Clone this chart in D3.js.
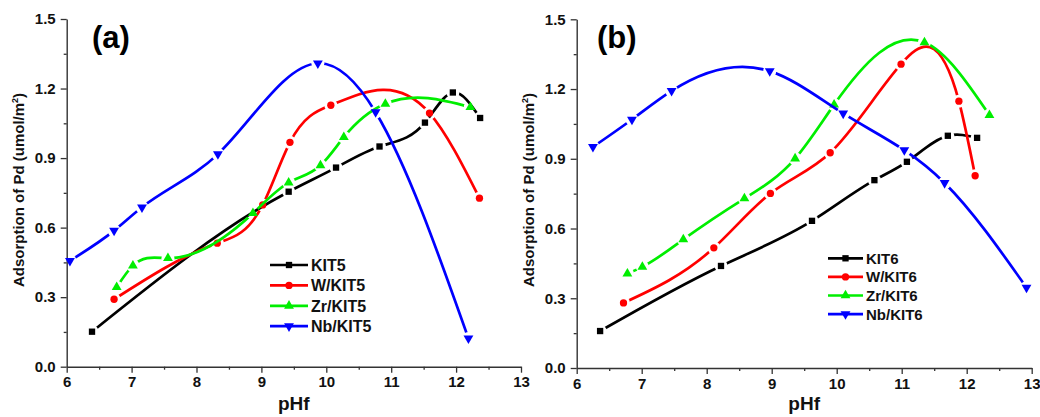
<!DOCTYPE html>
<html>
<head>
<meta charset="utf-8">
<script src="https://cdn.jsdelivr.net/npm/d3@7"></script>
<style>
  html, body { margin: 0; padding: 0; background: #fff; }
  svg { display: block; }
  text { font-family: "Liberation Sans", Arial, sans-serif; font-weight: bold; }
</style>
</head>
<body>
<svg id="chart" width="1040" height="417"></svg>
<script>
// ---- Tick values / labels ----
const xTicks = [6, 7, 8, 9, 10, 11, 12, 13];
const xMinorTicks = [6.5, 7.5, 8.5, 9.5, 10.5, 11.5, 12.5];
const yTicks = [0.0, 0.3, 0.6, 0.9, 1.2, 1.5];
const yMinorTicks = [0.15, 0.45, 0.75, 1.05, 1.35];
const xTitle = "pHf";
const panelLabels = ["(a)", "(b)"];

// ---- Panel (a) data ----
const namesA = ["KIT5", "W/KIT5", "Zr/KIT5", "Nb/KIT5"];
const kit5X = [6.39, 9.42, 10.15, 10.82, 11.52, 11.95, 12.37];
const kit5Y = [0.151, 0.755, 0.859, 0.950, 1.053, 1.183, 1.073];
const w5X = [6.73, 8.32, 9.02, 9.44, 10.07, 11.59, 12.36];
const w5Y = [0.291, 0.533, 0.698, 0.968, 1.128, 1.094, 0.727];
const zr5X = [6.77, 7.02, 7.56, 8.87, 9.42, 9.91, 10.27, 10.91, 12.22];
const zr5Y = [0.343, 0.436, 0.468, 0.662, 0.794, 0.868, 0.990, 1.134, 1.120];
const nb5X = [6.05, 6.73, 7.16, 8.33, 9.87, 10.76, 12.19];
const nb5Y = [0.457, 0.587, 0.688, 0.917, 1.309, 1.098, 0.122];

// ---- Panel (b) data ----
const namesB = ["KIT6", "W/KIT6", "Zr/KIT6", "Nb/KIT6"];
const kit6X = [6.36, 8.22, 9.62, 10.58, 11.08, 11.71, 12.16];
const kit6Y = [0.159, 0.439, 0.633, 0.808, 0.887, 0.999, 0.990];
const w6X = [6.72, 8.11, 8.98, 9.90, 10.99, 11.88, 12.13];
const w6Y = [0.280, 0.517, 0.751, 0.926, 1.307, 1.148, 0.827];
const zr6X = [6.78, 7.01, 7.64, 8.58, 9.36, 9.96, 11.35, 12.35];
const zr6Y = [0.406, 0.435, 0.553, 0.729, 0.901, 1.133, 1.401, 1.088];
const nb6X = [6.25, 6.85, 7.46, 8.97, 10.10, 11.04, 11.66, 12.92];
const nb6Y = [0.951, 1.069, 1.192, 1.277, 1.095, 0.937, 0.796, 0.346];

// ---- Styles ----
const colors = ["#000000", "#ff0000", "#00ee00", "#0000ff"];
const symbols = ["square", "circle", "up", "down"];

const svg = d3.select("#chart");
const defs = svg.append("defs");

function zip(xs, ys) { return xs.map((x, i) => ({ x: x, y: ys[i] })); }

// Custom d3 curve: natural cubic spline of y as a function of x (x increasing),
// emitted as exact cubic Bezier segments.
function NaturalX(context) { this._context = context; }
NaturalX.prototype = {
  areaStart() { this._line = 0; },
  areaEnd() { this._line = NaN; },
  lineStart() { this._px = []; this._py = []; },
  point(x, y) { this._px.push(+x); this._py.push(+y); },
  lineEnd() {
    const X = this._px, Y = this._py, n = X.length, c = this._context;
    if (!n) return;
    c.moveTo(X[0], Y[0]);
    if (n === 1) return;
    if (n === 2) { c.lineTo(X[1], Y[1]); return; }
    const h = [], M = new Array(n).fill(0);
    for (let i = 0; i < n - 1; i++) h.push(X[i + 1] - X[i]);
    // tridiagonal solve for interior second derivatives
    const a = [], b = [], cc = [], r = [];
    for (let i = 1; i < n - 1; i++) {
      a.push(h[i - 1]); b.push(2 * (h[i - 1] + h[i])); cc.push(h[i]);
      r.push(6 * ((Y[i + 1] - Y[i]) / h[i] - (Y[i] - Y[i - 1]) / h[i - 1]));
    }
    const m = b.length;
    for (let i = 1; i < m; i++) {
      const w = a[i] / b[i - 1];
      b[i] -= w * cc[i - 1];
      r[i] -= w * r[i - 1];
    }
    const sol = new Array(m);
    sol[m - 1] = r[m - 1] / b[m - 1];
    for (let i = m - 2; i >= 0; i--) sol[i] = (r[i] - cc[i] * sol[i + 1]) / b[i];
    for (let i = 0; i < m; i++) M[i + 1] = sol[i];
    for (let i = 0; i < n - 1; i++) {
      const hi = h[i], d = (Y[i + 1] - Y[i]) / hi;
      const s0 = d - hi * (2 * M[i] + M[i + 1]) / 6;
      const s1 = d + hi * (M[i] + 2 * M[i + 1]) / 6;
      c.bezierCurveTo(X[i] + hi / 3, Y[i] + s0 * hi / 3,
                      X[i + 1] - hi / 3, Y[i + 1] - s1 * hi / 3,
                      X[i + 1], Y[i + 1]);
    }
  }
};
const curveNaturalX = ctx => new NaturalX(ctx);

function symbolPath(kind) {
  if (kind === "square") return d3.symbol().type(d3.symbolSquare).size(40)();
  if (kind === "circle") return d3.symbol().type(d3.symbolCircle).size(42)();
  return d3.symbol().type(d3.symbolTriangle).size(42)();
}
function symbolTransform(kind, px, py) {
  return kind === "down" ? `translate(${px},${py}) rotate(180)` : `translate(${px},${py})`;
}

let maskId = 0;

function drawPanel(opt) {
  const x = d3.scaleLinear().domain([6, 13]).range(opt.xr);
  const y = d3.scaleLinear().domain([0, 1.5]).range(opt.yr);
  const g = svg.append("g");

  // axes
  g.append("g").attr("transform", `translate(0,${opt.yr[0]})`)
    .call(d3.axisBottom(x).tickValues(xTicks).tickSize(6).tickSizeOuter(0).tickPadding(4).tickFormat(d3.format("d")));
  g.append("g").attr("transform", `translate(0,${opt.yr[0]})`)
    .call(d3.axisBottom(x).tickValues(xMinorTicks).tickSize(3).tickSizeOuter(0).tickFormat(""))
    .select(".domain").remove();
  g.append("g").attr("transform", `translate(${opt.xr[0]},0)`)
    .call(d3.axisLeft(y).tickValues(yTicks).tickSize(6).tickSizeOuter(0).tickPadding(5).tickFormat(d3.format(".1f")));
  g.append("g").attr("transform", `translate(${opt.xr[0]},0)`)
    .call(d3.axisLeft(y).tickValues(yMinorTicks).tickSize(3).tickSizeOuter(0).tickFormat(""))
    .select(".domain").remove();
  g.selectAll(".domain").attr("stroke", "#333").attr("stroke-width", 1.4);
  g.selectAll(".tick line").attr("stroke", "#333").attr("stroke-width", 1.3);
  g.selectAll(".tick text").attr("font-size", 15).attr("fill", "#111")
    .attr("font-family", "Liberation Sans, Arial, sans-serif").attr("font-weight", "bold");

  // axis titles
  g.append("text").attr("x", (opt.xr[0] + opt.xr[1]) / 2).attr("y", 410)
    .attr("text-anchor", "middle").attr("font-size", 19).attr("fill", "#111").text(xTitle);
  const yt = g.append("text")
    .attr("transform", `translate(${opt.ytx},190) rotate(-90)`)
    .attr("text-anchor", "middle").attr("font-size", 15).attr("fill", "#111");
  yt.append("tspan").text("Adsorption of Pd (umol/m");
  yt.append("tspan").attr("font-size", 9).attr("dy", -6).text("2");
  yt.append("tspan").attr("dy", 6).text(")");

  // panel label
  g.append("text").attr("x", opt.lx).attr("y", 48).attr("font-size", 31).attr("fill", "#000").text(opt.label);

  const line = d3.line().x(d => x(d.x)).y(d => y(d.y)).curve(curveNaturalX);

  opt.series.forEach((s, i) => {
    const pts = zip(s.xs, s.ys);
    const id = "gap" + (maskId++);
    const m = defs.append("mask").attr("id", id).attr("maskUnits", "userSpaceOnUse")
      .attr("x", 0).attr("y", 0).attr("width", 1040).attr("height", 417);
    m.append("rect").attr("x", 0).attr("y", 0).attr("width", 1040).attr("height", 417).attr("fill", "#fff");
    m.selectAll("circle").data(pts).join("circle")
      .attr("cx", d => x(d.x)).attr("cy", d => y(d.y)).attr("r", 6.5).attr("fill", "#000");
    g.append("path").datum(pts).attr("d", line).attr("fill", "none")
      .attr("stroke", colors[i]).attr("stroke-width", 2.7).attr("mask", `url(#${id})`);
    g.selectAll(null).data(pts).join("path")
      .attr("d", symbolPath(symbols[i]))
      .attr("transform", d => symbolTransform(symbols[i], x(d.x), y(d.y)))
      .attr("fill", colors[i]);
  });

  // legend
  const lg = opt.legend;
  opt.series.forEach((s, i) => {
    const yy = lg.y0 + i * lg.dy;
    g.append("line").attr("x1", lg.x1).attr("x2", lg.x2).attr("y1", yy).attr("y2", yy)
      .attr("stroke", colors[i]).attr("stroke-width", 2.7);
    g.append("path").attr("d", symbolPath(symbols[i]))
      .attr("transform", symbolTransform(symbols[i], (lg.x1 + lg.x2) / 2, yy))
      .attr("fill", colors[i]);
    g.append("text").attr("x", lg.x2 + 3).attr("y", yy).attr("dy", "0.36em")
      .attr("font-size", lg.fs).attr("fill", "#111").text(s.name);
  });
}

drawPanel({
  xr: [66.7, 521], yr: [366.7, 19], ytx: 24, lx: 92, label: panelLabels[0],
  series: [
    { name: namesA[0], xs: kit5X, ys: kit5Y },
    { name: namesA[1], xs: w5X, ys: w5Y },
    { name: namesA[2], xs: zr5X, ys: zr5Y },
    { name: namesA[3], xs: nb5X, ys: nb5Y }
  ],
  legend: { x1: 270, x2: 308, y0: 265, dy: 20.4, fs: 16 }
});

drawPanel({
  xr: [576.7, 1031.7], yr: [368, 19.3], ytx: 534, lx: 597, label: panelLabels[1],
  series: [
    { name: namesB[0], xs: kit6X, ys: kit6Y },
    { name: namesB[1], xs: w6X, ys: w6Y },
    { name: namesB[2], xs: zr6X, ys: zr6Y },
    { name: namesB[3], xs: nb6X, ys: nb6Y }
  ],
  legend: { x1: 828, x2: 863, y0: 258.3, dy: 18.6, fs: 15 }
});
</script>
</body>
</html>
